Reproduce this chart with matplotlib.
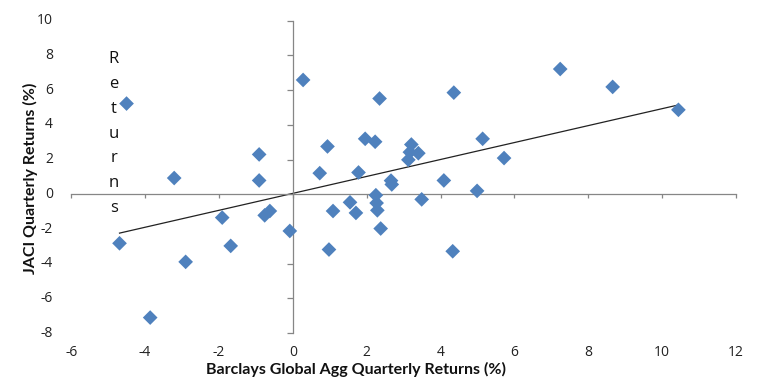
import numpy as np
import matplotlib
matplotlib.use("Agg")
import matplotlib.pyplot as plt

# Barclays Global Agg vs JACI quarterly returns (%)
barclays = [-4.50, -4.69, -3.21, -2.90, -3.86, -1.91, -1.68, -0.91, -0.91, -0.76,
            -0.62, -0.08, 0.28, 0.73, 0.94, 0.98, 1.09, 1.55, 1.71, 1.78,
            1.96, 2.23, 2.25, 2.27, 2.29, 2.38, 2.35, 2.66, 2.68, 3.13,
            3.17, 3.21, 3.40, 3.49, 4.09, 4.36, 4.33, 4.99, 5.14, 5.72,
            7.24, 8.66, 10.44]
jaci = [5.23, -2.82, 0.94, -3.89, -7.10, -1.34, -2.97, 2.30, 0.80, -1.21,
        -0.96, -2.11, 6.59, 1.22, 2.76, -3.18, -0.96, -0.46, -1.07, 1.26,
        3.20, 3.03, -0.05, -0.50, -0.92, -1.97, 5.52, 0.79, 0.57, 1.99,
        2.43, 2.87, 2.37, -0.29, 0.80, 5.86, -3.28, 0.20, 3.20, 2.09,
        7.22, 6.19, 4.87]

x_ticks = list(range(-6, 13, 2))
y_ticks = list(range(-8, 11, 2))

BLUE = "#4F81BD"
GRAY = "#868686"

plt.rcParams["font.family"] = ["Open Sans", "DejaVu Sans"]

fig = plt.figure(figsize=(7.64, 3.92), dpi=100)
ax = fig.add_axes([0.0931, 0.150, 0.9634 - 0.0931, 0.947 - 0.150])

ax.scatter(barclays, jaci, marker="D", s=56, color=BLUE, edgecolors="none", zorder=3)

# linear trendline over the data range
slope, intercept = np.polyfit(barclays, jaci, 1)
xs = np.array([min(barclays), max(barclays)])
ax.plot(xs, slope * xs + intercept, color="#222222", linewidth=0.9, zorder=2)

ax.set_xlim(-6, 12)
ax.set_ylim(-8, 10)
ax.set_xticks(x_ticks)
ax.set_yticks(y_ticks)

for side in ("top", "right"):
    ax.spines[side].set_visible(False)
ax.spines["left"].set_position(("data", 0))
ax.spines["bottom"].set_position(("data", 0))
for side in ("left", "bottom"):
    ax.spines[side].set_color(GRAY)
    ax.spines[side].set_linewidth(0.9)

ax.tick_params(axis="both", colors=GRAY, labelcolor="#222222", labelsize=10, width=0.9)
ax.tick_params(axis="y", direction="out", length=4.5, labelleft=False)
ax.tick_params(axis="x", direction="out", length=3, labelbottom=False)

# tick labels sit at the outer edge of the plot area, like Excel's "low" labels
for t in x_ticks:
    ax.annotate(str(t), (t, 0), xycoords=("data", "axes fraction"),
                xytext=(0, -14), textcoords="offset points",
                ha="center", va="center", fontsize=10, color="#222222")
for t in y_ticks:
    ax.annotate(str(t), (0, t), xycoords=("axes fraction", "data"),
                xytext=(-13, 0), textcoords="offset points",
                ha="right", va="center", fontsize=10, color="#222222")

fig.text(356 / 764, 1 - 369 / 392, "Barclays Global Agg Quarterly Returns (%)",
         ha="center", va="center", fontsize=11.5, fontweight="bold",
         family=["Lato", "DejaVu Sans"], color="#111111")
fig.text(30 / 764, 1 - 178 / 392, "JACI Quarterly Returns (%)",
         ha="center", va="center", rotation=90, fontsize=11.5, fontweight="bold",
         family=["Lato", "DejaVu Sans"], color="#111111")

fig.text(114 / 764, 1 - 133.5 / 392, "\n".join("Returns"),
         ha="center", va="center", fontsize=12, linespacing=1.73, color="#111111")

fig.savefig("out.png", dpi=100)
